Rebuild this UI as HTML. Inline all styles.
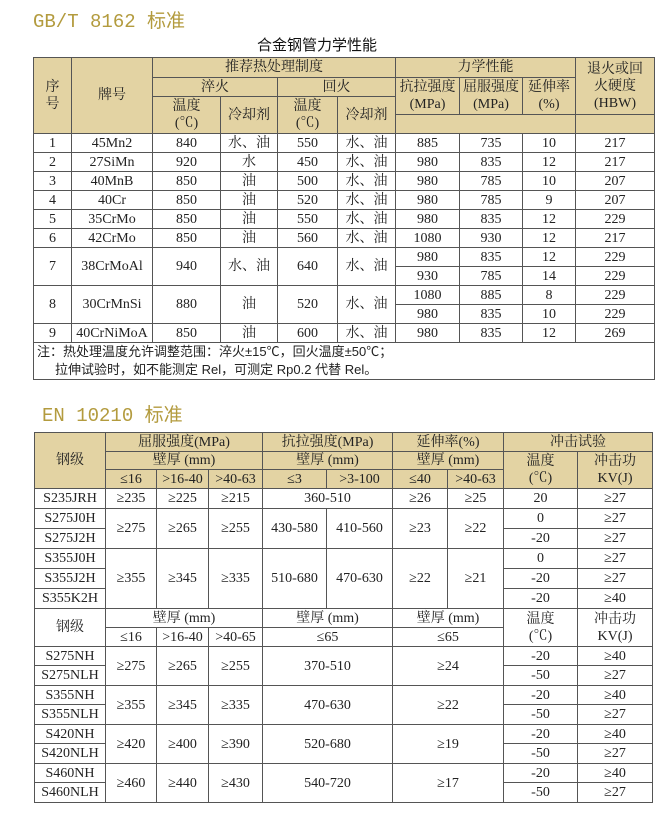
<!DOCTYPE html>
<html><head><meta charset="utf-8">
<style>
body{margin:0;width:662px;height:816px;background:#fff;position:relative;overflow:hidden;font-family:"Liberation Serif","Noto Serif CJK SC",serif;color:#222}
.t{position:absolute;font-family:"Liberation Mono","Noto Sans CJK SC",monospace;font-size:19px;color:#b39b3e}
.sub{position:absolute;left:257px;top:34px;font-family:"Liberation Sans","Noto Sans CJK SC",sans-serif;font-size:15px;color:#111}
table{position:absolute;border-collapse:collapse;table-layout:fixed}
td{border:1px solid #555;text-align:center;vertical-align:middle;padding:0;font-size:14px;line-height:17px;white-space:nowrap;overflow:hidden}
.h td{background:#e3d3a3}
td.h{background:#e3d3a3}
.note{text-align:left;font-family:"Liberation Sans","Noto Sans CJK SC",sans-serif;font-size:13px;line-height:18px;padding-left:3px}
</style></head><body>
<div class="t" style="left:33px;top:6px">GB/T 8162 标准</div>
<div class="sub">合金钢管力学性能</div>
<table style="left:33px;top:57px;width:621px">
<colgroup><col style="width:38px"><col style="width:81px"><col style="width:68px"><col style="width:57px"><col style="width:60px"><col style="width:58px"><col style="width:64px"><col style="width:63px"><col style="width:53px"><col style="width:79px"></colgroup>
<tr class="h" style="height:20px"><td rowspan="4">序<br>号</td><td rowspan="4">牌号</td><td colspan="4">推荐热处理制度</td><td colspan="3">力学性能</td><td rowspan="3">退火或回<br>火硬度<br>(HBW)</td></tr>
<tr class="h" style="height:19px"><td colspan="2">淬火</td><td colspan="2">回火</td><td rowspan="2">抗拉强度<br>(MPa)</td><td rowspan="2">屈服强度<br>(MPa)</td><td rowspan="2">延伸率<br>(%)</td></tr>
<tr class="h" style="height:18px"><td rowspan="2">温度<br>(℃)</td><td rowspan="2">冷却剂</td><td rowspan="2">温度<br>(℃)</td><td rowspan="2">冷却剂</td></tr>
<tr class="h" style="height:19px"><td colspan="3"></td><td></td></tr>
<tr style="height:19px"><td>1</td><td>45Mn2</td><td>840</td><td>水、油</td><td>550</td><td>水、油</td><td>885</td><td>735</td><td>10</td><td>217</td></tr>
<tr style="height:19px"><td>2</td><td>27SiMn</td><td>920</td><td>水</td><td>450</td><td>水、油</td><td>980</td><td>835</td><td>12</td><td>217</td></tr>
<tr style="height:19px"><td>3</td><td>40MnB</td><td>850</td><td>油</td><td>500</td><td>水、油</td><td>980</td><td>785</td><td>10</td><td>207</td></tr>
<tr style="height:19px"><td>4</td><td>40Cr</td><td>850</td><td>油</td><td>520</td><td>水、油</td><td>980</td><td>785</td><td>9</td><td>207</td></tr>
<tr style="height:19px"><td>5</td><td>35CrMo</td><td>850</td><td>油</td><td>550</td><td>水、油</td><td>980</td><td>835</td><td>12</td><td>229</td></tr>
<tr style="height:19px"><td>6</td><td>42CrMo</td><td>850</td><td>油</td><td>560</td><td>水、油</td><td>1080</td><td>930</td><td>12</td><td>217</td></tr>
<tr style="height:19px"><td rowspan="2">7</td><td rowspan="2">38CrMoAl</td><td rowspan="2">940</td><td rowspan="2">水、油</td><td rowspan="2">640</td><td rowspan="2">水、油</td><td>980</td><td>835</td><td>12</td><td>229</td></tr>
<tr style="height:19px"><td>930</td><td>785</td><td>14</td><td>229</td></tr>
<tr style="height:19px"><td rowspan="2">8</td><td rowspan="2">30CrMnSi</td><td rowspan="2">880</td><td rowspan="2">油</td><td rowspan="2">520</td><td rowspan="2">水、油</td><td>1080</td><td>885</td><td>8</td><td>229</td></tr>
<tr style="height:19px"><td>980</td><td>835</td><td>10</td><td>229</td></tr>
<tr style="height:19px"><td>9</td><td>40CrNiMoA</td><td>850</td><td>油</td><td>600</td><td>水、油</td><td>980</td><td>835</td><td>12</td><td>269</td></tr>
<tr style="height:36px"><td colspan="10" class="note">注：热处理温度允许调整范围：淬火±15℃，回火温度±50℃；<br>&nbsp;&nbsp;&nbsp;&nbsp;&nbsp;拉伸试验时，如不能测定 Rel，可测定 Rp0.2 代替 Rel。</td></tr>
</table>

<div class="t" style="left:42px;top:400px">EN 10210 标准</div>
<table style="left:34px;top:432px;width:618px">
<colgroup><col style="width:71px"><col style="width:51px"><col style="width:52px"><col style="width:54px"><col style="width:64px"><col style="width:66px"><col style="width:55px"><col style="width:56px"><col style="width:74px"><col style="width:75px"></colgroup>
<tr class="h" style="height:19px"><td rowspan="3">钢级</td><td colspan="3">屈服强度(MPa)</td><td colspan="2">抗拉强度(MPa)</td><td colspan="2">延伸率(%)</td><td colspan="2">冲击试验</td></tr>
<tr class="h" style="height:18px"><td colspan="3">壁厚 (mm)</td><td colspan="2">壁厚 (mm)</td><td colspan="2">壁厚 (mm)</td><td rowspan="2">温度<br>(℃)</td><td rowspan="2">冲击功<br>KV(J)</td></tr>
<tr class="h" style="height:19px"><td>≤16</td><td>&gt;16-40</td><td>&gt;40-63</td><td>≤3</td><td>&gt;3-100</td><td>≤40</td><td>&gt;40-63</td></tr>
<tr style="height:20px"><td>S235JRH</td><td>≥235</td><td>≥225</td><td>≥215</td><td colspan="2">360-510</td><td>≥26</td><td>≥25</td><td>20</td><td>≥27</td></tr>
<tr style="height:20px"><td>S275J0H</td><td rowspan="2">≥275</td><td rowspan="2">≥265</td><td rowspan="2">≥255</td><td rowspan="2">430-580</td><td rowspan="2">410-560</td><td rowspan="2">≥23</td><td rowspan="2">≥22</td><td>0</td><td>≥27</td></tr>
<tr style="height:20px"><td>S275J2H</td><td>-20</td><td>≥27</td></tr>
<tr style="height:20px"><td>S355J0H</td><td rowspan="3">≥355</td><td rowspan="3">≥345</td><td rowspan="3">≥335</td><td rowspan="3">510-680</td><td rowspan="3">470-630</td><td rowspan="3">≥22</td><td rowspan="3">≥21</td><td>0</td><td>≥27</td></tr>
<tr style="height:20px"><td>S355J2H</td><td>-20</td><td>≥27</td></tr>
<tr style="height:20px"><td>S355K2H</td><td>-20</td><td>≥40</td></tr>
<tr style="height:19px"><td rowspan="2">钢级</td><td colspan="3">壁厚 (mm)</td><td colspan="2">壁厚 (mm)</td><td colspan="2">壁厚 (mm)</td><td rowspan="2">温度<br>(℃)</td><td rowspan="2">冲击功<br>KV(J)</td></tr>
<tr style="height:19px"><td>≤16</td><td>&gt;16-40</td><td>&gt;40-65</td><td colspan="2">≤65</td><td colspan="2">≤65</td></tr>
<tr style="height:19px"><td>S275NH</td><td rowspan="2">≥275</td><td rowspan="2">≥265</td><td rowspan="2">≥255</td><td rowspan="2" colspan="2">370-510</td><td rowspan="2" colspan="2">≥24</td><td>-20</td><td>≥40</td></tr>
<tr style="height:20px"><td>S275NLH</td><td>-50</td><td>≥27</td></tr>
<tr style="height:19px"><td>S355NH</td><td rowspan="2">≥355</td><td rowspan="2">≥345</td><td rowspan="2">≥335</td><td rowspan="2" colspan="2">470-630</td><td rowspan="2" colspan="2">≥22</td><td>-20</td><td>≥40</td></tr>
<tr style="height:20px"><td>S355NLH</td><td>-50</td><td>≥27</td></tr>
<tr style="height:19px"><td>S420NH</td><td rowspan="2">≥420</td><td rowspan="2">≥400</td><td rowspan="2">≥390</td><td rowspan="2" colspan="2">520-680</td><td rowspan="2" colspan="2">≥19</td><td>-20</td><td>≥40</td></tr>
<tr style="height:20px"><td>S420NLH</td><td>-50</td><td>≥27</td></tr>
<tr style="height:19px"><td>S460NH</td><td rowspan="2">≥460</td><td rowspan="2">≥440</td><td rowspan="2">≥430</td><td rowspan="2" colspan="2">540-720</td><td rowspan="2" colspan="2">≥17</td><td>-20</td><td>≥40</td></tr>
<tr style="height:20px"><td>S460NLH</td><td>-50</td><td>≥27</td></tr>
</table>
</body></html>
